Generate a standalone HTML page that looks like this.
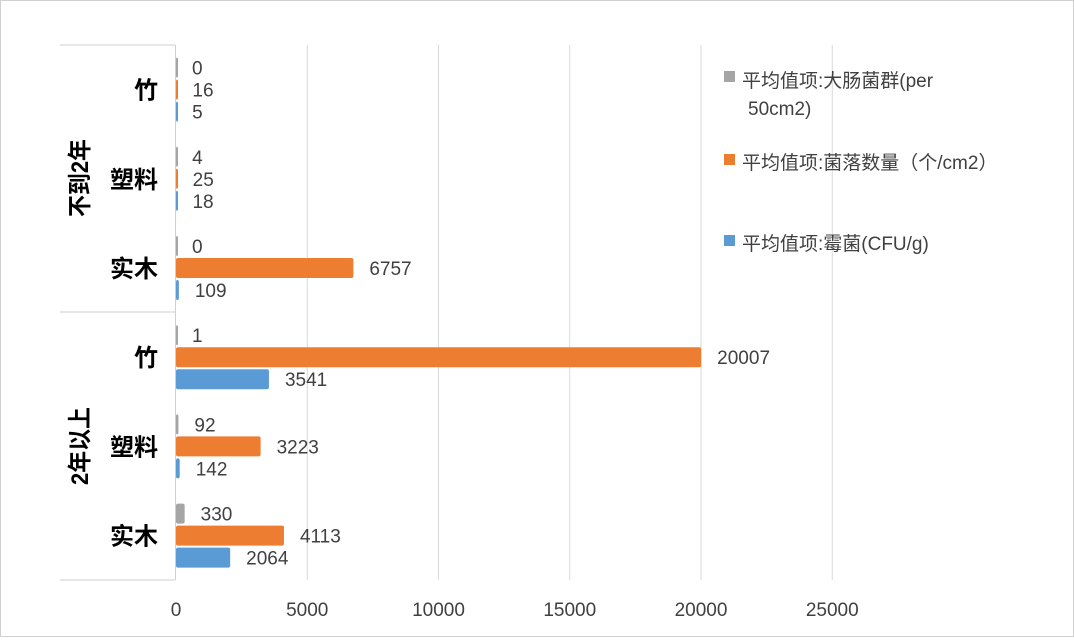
<!DOCTYPE html>
<html><head><meta charset="utf-8"><style>
body{margin:0;background:#fff;font-family:"Liberation Sans","Noto Sans CJK SC",sans-serif;}
svg text{font-family:"Liberation Sans","Noto Sans CJK SC",sans-serif;}
</style></head><body>
<svg id="c" width="1074" height="638">
<rect x="0.5" y="0.5" width="1073" height="636" fill="#fff" stroke="#d0d0d0"/>
<g id="grid"></g><g id="bars"></g><g id="labels"></g>
<line x1="60" y1="45" x2="175" y2="45" stroke="#cfcfcf"/>
<line x1="60" y1="312" x2="175" y2="312" stroke="#cfcfcf"/>
<line x1="60" y1="580" x2="175" y2="580" stroke="#cfcfcf"/>
<line x1="175.5" y1="45" x2="175.5" y2="580" stroke="#cfcfcf"/>
<text x="88" y="178" font-size="24" font-weight="bold" text-anchor="middle" transform="rotate(-90 88 178) scale(1,1)" textLength="78" lengthAdjust="spacingAndGlyphs">不到2年</text>
<text x="88" y="446" font-size="24" font-weight="bold" text-anchor="middle" transform="rotate(-90 88 446)" textLength="78" lengthAdjust="spacingAndGlyphs">2年以上</text>
<g id="legend" font-size="19" fill="#404040">
<rect x="724" y="71" width="11" height="11" fill="#a5a5a5"/>
<text x="742" y="87">平均值项:大肠菌群(per</text>
<text x="748" y="115">50cm2)</text>
<rect x="724" y="154" width="11" height="11" fill="#ed7d31"/>
<text x="742" y="169">平均值项:菌落数量（个/cm2）</text>
<rect x="724" y="235" width="11" height="11" fill="#5b9bd5"/>
<text x="742" y="250">平均值项:霉菌(CFU/g)</text>
</g>
</svg>
<script>
const categories=["竹","塑料","实木","竹","塑料","实木"];
const coliform=[0,4,0,1,92,330];
const colony=[16,25,6757,20007,3223,4113];
const mold=[5,18,109,3541,142,2064];
const ticks=[0,5000,10000,15000,20000,25000];
const NS="http://www.w3.org/2000/svg";
const x0=176,pxPer=131.25/5000,top0=45,band=89.2;
const xs=v=>x0+v*pxPer;
const yc=i=>top0+band*(i+0.5);
function mk(t,a,p){const e=document.createElementNS(NS,t);for(const k in a)e.setAttribute(k,a[k]);document.getElementById(p).appendChild(e);return e;}
ticks.forEach((t,i)=>{
 if(t>0){const l=mk('line',{x1:xs(t),x2:xs(t),y1:45,y2:580,stroke:'#d9d9d9'},'grid');
 
 }
 const tx=mk('text',{x:xs(t),y:616,'font-size':19,'text-anchor':'middle',fill:'#404040'},'labels');
 tx.textContent=t;
 
 
});
categories.forEach((c,i)=>{
 const ct=mk('text',{x:158,y:yc(i)+9,'font-size':24,'font-weight':'bold','text-anchor':'end',fill:'#000'},'labels');
 ct.textContent=c;
 
 
 const series=[[coliform,'#a5a5a5',-22,'coliform'],[colony,'#ed7d31',0,'colony'],[mold,'#5b9bd5',22,'mold']];
 series.forEach(([arr,col,off,nm])=>{
  const v=arr[i],cy=yc(i)+off;
  const w=Math.max(xs(v)-x0,2);
  const r=mk('rect',{x:x0,y:cy-10,width:w,height:20,fill:col,rx:2},'bars');
  
  
  const lx=Math.max(xs(v),x0)+16;
  const lt=mk('text',{x:lx,y:cy+7,'font-size':19,fill:'#404040'},'labels');
  lt.textContent=v;
  
  
 });
});
</script>
</body></html>
